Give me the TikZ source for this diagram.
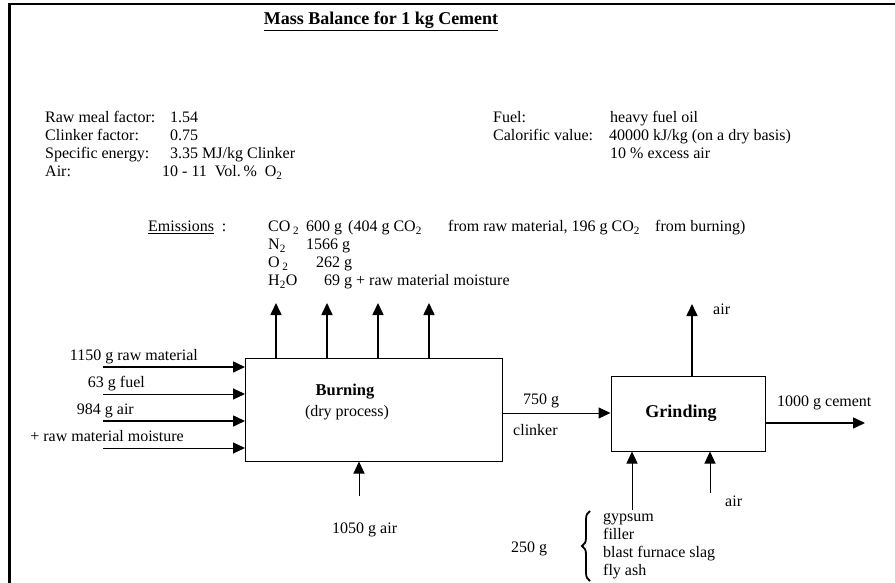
\documentclass[tikz,border=0pt]{standalone}
\usepackage{fontspec}
\setmainfont{Liberation Serif}
\usetikzlibrary{arrows.meta,decorations.pathreplacing}
\begin{document}
\begin{tikzpicture}[x=1pt,y=-1pt,
  txt/.style={inner sep=0pt, anchor=west, text height=11pt, text depth=3.5pt, font=\fontsize{16}{18}\selectfont},
  ctxt/.style={txt, anchor=center},
  etxt/.style={txt, anchor=east},
  blk/.style={draw, line width=1pt, inner sep=0pt},
  arr/.style={-{Triangle[length=12pt,width=11pt]}, line width=1.6pt},
  tarr/.style={-{Triangle[length=12pt,width=11pt]}, line width=1pt},
  frame/.style={line width=2.2pt},
  bracestyle/.style={decorate, decoration={brace, amplitude=8pt}, line width=1.8pt}
]
\useasboundingbox (0,0) rectangle (895,583);
\draw[frame] (895,4) -- (9.5,4) -- (9.5,583);

% title
\node[ctxt, text height=13pt, font=\bfseries\fontsize{18}{20}\selectfont] (title) at (381,20) {\underline{Mass Balance for 1 kg Cement}};

% parameters
\node[txt] (p1) at (45,119) {Raw meal factor:};
\node[txt] (p1v) at (170,119) {1.54};
\node[txt] (p2) at (45,137) {Clinker factor:};
\node[txt] (p2v) at (170,137) {0.75};
\node[txt] (p3) at (45,155) {Specific energy:};
\node[txt] (p3v) at (170,155) {3.35 MJ/kg Clinker};
\node[txt] (p4) at (45,173) {Air:};
\node[txt] (p4v) at (162,173) {10 - 11\ \ Vol.\,\%\ \ O\textsubscript{2}};

\node[txt] (f1) at (493,119) {Fuel:};
\node[txt] (f1v) at (610,119) {heavy fuel oil};
\node[txt] (f2) at (493,137) {Calorific value:};
\node[txt] (f2v) at (609,137) {40000 kJ/kg (on a dry basis)};
\node[txt] (f3v) at (610,155) {10 \% excess air};

% emissions
\node[txt] (em) at (148,228) {\underline{Emissions}\ \ :};
\node[txt] (co2) at (268,228) {CO\,\textsubscript{2}};
\node[txt] (co2v) at (306,228) {600 g};
\node[txt] (co2a) at (348,228) {(404 g CO\textsubscript{2}};
\node[txt] (co2b) at (448,228) {from raw material, 196 g CO\textsubscript{2}};
\node[txt] (co2c) at (655,228) {from burning)};
\node[txt] (n2) at (268,246) {N\textsubscript{2}};
\node[txt] (n2v) at (306,246) {1566 g};
\node[txt] (o2) at (268,264) {O\,\textsubscript{2}};
\node[txt] (o2v) at (316,264) {262 g};
\node[txt] (h2o) at (268,282) {H\textsubscript{2}O};
\node[txt] (h2ov) at (324,282) {69 g + raw material moisture};

% burning
\node[blk, minimum width=257pt, minimum height=103pt] (burn) at (374,409.5) {};
\node[ctxt, font=\bfseries\fontsize{16.5}{18}\selectfont] (burnt) at (345,392) {Burning};
\node[ctxt] (burnd) at (347,413) {(dry process)};

% grinding
\node[blk, minimum width=154pt, minimum height=75pt] (grind) at (688,413.5) {};
\node[ctxt, text height=12pt, text depth=4pt, font=\bfseries\fontsize{18}{20}\selectfont] (grindt) at (681,413) {Grinding};

% inputs to burning
\coordinate (i1) at (103,367);
\coordinate (i2) at (103,394);
\coordinate (i3) at (103,421);
\coordinate (i4) at (103,448);
\draw[arr] (i1) -- (i1 -| burn.west);
\draw[tarr] (i2) -- (i2 -| burn.west);
\draw[arr] (i3) -- (i3 -| burn.west);
\draw[tarr] (i4) -- (i4 -| burn.west);
\node[etxt] (l1) at (198,357) {1150 g raw material};
\node[etxt] (l2) at (145,384) {63 g fuel};
\node[etxt] (l3) at (134,411) {984 g air};
\node[etxt] (l4) at (184,438) {+ raw material moisture};

% emission arrows
\coordinate (e1) at (276,303);
\coordinate (e2) at (327,303);
\coordinate (e3) at (378,303);
\coordinate (e4) at (429,303);
\draw[arr] (e1 |- burn.north) -- (e1);
\draw[arr] (e2 |- burn.north) -- (e2);
\draw[arr] (e3 |- burn.north) -- (e3);
\draw[arr] (e4 |- burn.north) -- (e4);

% burning air from below
\coordinate (bb) at (359,496);
\draw[tarr] (bb) -- (bb |- burn.south);
\node[txt] (bba) at (332,530) {1050 g air};

% clinker
\coordinate (cl) at (560,413);
\draw[tarr] (burn.east |- cl) -- (grind.west |- cl);
\node[txt] (clm) at (523,401) {750 g};
\node[txt] (clk) at (513,432) {clinker};

% grinding outputs
\coordinate (ga) at (692,304);
\draw[arr] (grind.north -| ga) -- (ga);
\node[txt] (gat) at (713,311) {air};
\coordinate (out) at (865,423);
\draw[arr] (grind.east |- out) -- (out);
\node[txt] (outt) at (777,403) {1000 g cement};

% grinding inputs
\coordinate (gb1) at (632,510);
\coordinate (gb2) at (710,493);
\draw[tarr] (gb1) -- (gb1 |- grind.south);
\draw[tarr] (gb2) -- (gb2 |- grind.south);
\node[txt] (gbt) at (725,503) {air};

\node[txt] (g250) at (511,549) {250 g};
\coordinate (brb) at (590,581);
\coordinate (brt) at (590,511);
\draw[bracestyle] (brb) -- (brt);
\node[txt] (a1) at (603,518) {gypsum};
\node[txt] (a2) at (603,536) {filler};
\node[txt] (a3) at (603,554) {blast furnace slag};
\node[txt] (a4) at (603,572) {fly ash};
\end{tikzpicture}
\end{document}
